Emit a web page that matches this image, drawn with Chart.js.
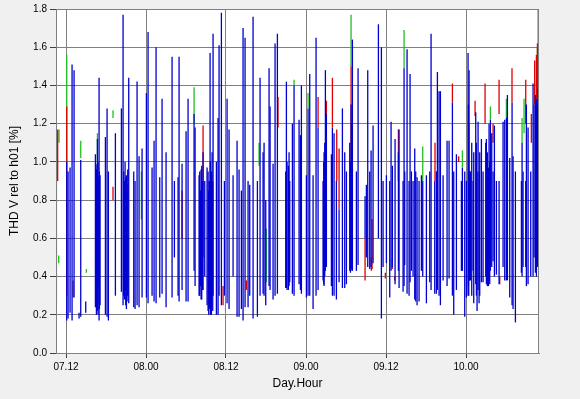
<!DOCTYPE html>
<html>
<head>
<meta charset="utf-8">
<script src="https://cdn.jsdelivr.net/npm/chart.js@4"></script>
<style>
  html, body { margin: 0; padding: 0; background: #f0f0f0; }
  canvas { display: block; }
</style>
</head>
<body>
<canvas id="thdChart" width="580" height="399"></canvas>
<script>
// time axis is in hours counted from day 07, 00:00
const xTickHours = [12, 24, 36, 48, 60, 72];
const xTickLabels = ['07.12', '08.00', '08.12', '09.00', '09.12', '10.00'];

// blue trace: each sample shown as min..max span
const blueX = [10.56, 12.11, 12.31, 12.61, 12.91, 13.21, 13.96, 14.21, 14.96, 16.41, 16.56, 16.71, 16.96, 17.11, 17.91, 18.16, 18.36, 19.41, 20.31, 20.56,
    21.06, 21.41, 22.16, 22.36, 22.66, 22.96, 23.41, 24.06, 24.31, 24.91, 25.21, 25.51, 26.06, 26.41, 27.01, 27.91, 28.26, 28.81, 28.96, 29.41,
    30.01, 30.31, 31.21, 31.36, 31.96, 32.26, 32.56, 32.81, 33.16, 33.46, 33.61, 33.91, 34.06, 34.56, 34.81, 34.96,
    35.31, 35.76, 36.16, 36.46, 37.06, 37.66, 37.96, 38.31, 38.56, 38.86, 39.31, 39.56, 40.06, 40.71, 41.11, 41.56, 41.71, 41.96, 42.46, 42.61,
    43.06, 43.36, 43.71, 44.96, 45.06, 45.36, 45.56, 45.96, 46.21, 46.96, 47.16, 47.31, 48.06, 48.31, 48.56, 49.06, 49.51, 49.81, 50.56, 50.81,
    50.91, 51.06, 51.81, 51.96, 52.21, 52.56, 52.96, 53.46, 53.81, 54.06, 54.56, 54.76, 54.96, 55.56, 55.81, 56.86, 57.06, 57.26, 57.56, 57.76,
    58.06, 58.86, 59.31, 59.56, 60.06, 60.56, 60.76, 60.96, 61.36, 61.86, 61.96, 62.56, 62.71, 62.81, 63.16, 63.46, 63.61, 63.81, 64.06, 64.31,
    64.46, 64.66, 64.96, 65.31, 65.51, 66.06, 66.56, 66.76, 67.31, 67.56, 67.71, 67.96, 68.16, 68.56, 69.16, 69.46, 69.96, 70.16, 70.56, 71.31,
    71.46, 71.81, 72.06, 72.31, 72.46, 72.56, 73.06, 73.46, 73.81, 73.96, 74.31, 74.56, 75.06, 75.36, 75.66, 76.06, 76.26, 76.56, 76.96, 77.56,
    77.81, 78.06, 78.21, 78.56, 78.91, 79.06, 79.41, 80.31, 80.41, 80.56, 80.96, 81.06, 81.31, 81.71, 82.06, 82.56, 82.71, 82.86,
    // denser clusters
    16.46, 16.51, 16.61, 16.66, 16.76, 16.81, 16.86, 17.01, 20.66, 20.76, 20.86, 20.96, 21.16, 21.26, 32.06, 32.16, 32.36, 32.46,
    33.31, 33.41, 33.56, 33.66, 33.76, 33.81, 34.01, 45.16, 45.46, 50.66, 50.71, 54.66, 54.86,
    72.36, 72.41, 72.66, 72.86, 73.16, 73.56, 73.66, 74.06, 74.96, 75.21, 75.46, 75.56, 75.86, 82.21, 82.41, 82.81];
const blueHi = [1.14, 1.00, 0.95, 0.97, 1.51, 1.48, 0.21, 1.01, 0.27, 1.04, 0.96, 1.12, 1.44, 0.93, 1.13, 1.28, 0.95, 1.15, 1.28, 1.77,
    0.93, 1.44, 0.95, 0.90, 1.42, 1.03, 1.07, 1.36, 1.68, 0.97, 1.11, 1.60, 0.92, 1.33, 1.05, 1.55, 0.90, 0.92, 1.55, 0.99,
    1.16, 1.33, 1.25, 1.18, 0.93, 0.96, 1.05, 0.90, 0.97, 0.90, 1.57, 1.05, 1.67, 1.00, 1.23, 1.61,
    1.78, 0.90, 1.33, 1.17, 0.93, 1.11, 0.96, 0.85, 1.70, 1.65, 0.90, 0.88, 1.76, 0.90, 1.44, 1.05, 1.10, 0.80, 1.49, 1.29,
    0.99, 1.62, 1.67, 0.95, 1.42, 0.98, 0.90, 1.20, 1.40, 1.22, 1.14, 1.40, 0.93, 1.28, 1.46, 0.93, 1.65, 1.18, 0.90, 1.10,
    1.48, 1.25, 1.04, 1.18, 1.15, 0.90, 0.75, 1.28, 1.05, 0.95, 1.10, 1.30, 1.64, 0.95, 1.49, 0.82, 0.88, 1.48, 0.95, 1.06,
    1.19, 1.72, 1.60, 0.90, 0.93, 0.90, 1.21, 0.98, 1.12, 1.05, 1.17, 0.90, 1.49, 0.95, 1.59, 0.90, 1.46, 0.95, 0.90, 1.07,
    0.95, 0.92, 0.90, 0.93, 0.90, 0.93, 0.95, 1.67, 0.90, 0.95, 1.47, 1.37, 1.37, 0.93, 1.11, 1.11, 1.31, 0.95, 1.04, 0.90,
    0.97, 0.95, 0.90, 1.57, 1.48, 0.95, 0.90, 1.26, 1.21, 0.95, 1.12, 0.95, 1.12, 0.97, 1.22, 0.95, 1.19, 0.90, 0.90, 1.21,
    1.22, 1.23, 1.35, 1.02, 1.31, 1.03, 0.95, 0.90, 1.10, 0.95, 0.90, 1.30, 1.18, 0.95, 1.41, 1.33, 1.30, 1.32,
    0.98, 0.90, 0.85, 0.99, 0.90, 1.00, 0.92, 0.95, 0.95, 0.90, 1.00, 0.92, 0.88, 0.96, 0.95, 0.85, 0.98, 0.90,
    0.95, 0.85, 0.90, 1.00, 0.80, 0.95, 0.90, 1.00, 1.05, 1.00, 1.05, 1.00, 1.20,
    1.30, 1.20, 0.95, 1.10, 1.05, 1.10, 0.95, 1.05, 1.10, 1.05, 1.20, 1.00, 1.15, 1.30, 1.35, 1.38];
const blueLo = [0.26, 0.17, 0.18, 0.21, 0.17, 0.29, 0.18, 0.19, 0.21, 0.24, 0.20, 0.22, 0.17, 0.25, 0.20, 0.19, 0.17, 0.30, 0.32, 0.25,
    0.23, 0.26, 0.24, 0.23, 0.25, 0.24, 0.29, 0.29, 0.26, 0.30, 0.27, 0.26, 0.29, 0.31, 0.24, 0.29, 0.50, 0.30, 0.27, 0.33,
    0.27, 0.27, 0.43, 0.35, 0.30, 0.28, 0.33, 0.40, 0.25, 0.30, 0.25, 0.30, 0.30, 0.20, 0.20, 0.30,
    0.25, 0.30, 0.26, 0.23, 0.40, 0.19, 0.19, 0.23, 0.17, 0.24, 0.24, 0.30, 0.18, 0.19, 0.30, 0.31, 0.30, 0.25, 0.35, 0.33,
    0.28, 0.30, 0.31, 0.34, 0.34, 0.33, 0.37, 0.31, 0.30, 0.36, 0.33, 0.31, 0.29, 0.30, 0.30, 0.23, 0.30, 0.33, 0.38, 0.40,
    0.43, 0.45, 0.35, 0.30, 0.30, 0.28, 0.37, 0.34, 0.34, 0.36, 0.43, 0.43, 0.43, 0.43, 0.46, 0.60, 0.50, 0.45, 0.44, 0.45,
    0.47, 0.60, 0.18, 0.45, 0.47, 0.29, 0.43, 0.45, 0.36, 0.43, 0.34, 0.32, 0.35, 0.46, 0.31, 0.30, 0.37, 0.43, 0.40, 0.28,
    0.27, 0.25, 0.27, 0.43, 0.40, 0.26, 0.37, 0.33, 0.31, 0.31, 0.33, 0.30, 0.25, 0.38, 0.35, 0.39, 0.30, 0.20, 0.33, 0.43,
    0.43, 0.19, 0.29, 0.30, 0.38, 0.38, 0.43, 0.36, 0.33, 0.26, 0.37, 0.37, 0.36, 0.35, 0.43, 0.48, 0.40, 0.41, 0.36, 0.45,
    0.38, 0.38, 0.38, 0.29, 0.25, 0.23, 0.16, 0.42, 0.40, 0.45, 0.45, 0.35, 0.36, 0.40, 0.40, 0.40, 0.45, 0.67,
    0.24, 0.30, 0.22, 0.30, 0.26, 0.20, 0.35, 0.23, 0.30, 0.28, 0.33, 0.25, 0.27, 0.30, 0.30, 0.35, 0.28, 0.33,
    0.22, 0.20, 0.23, 0.20, 0.24, 0.20, 0.22, 0.33, 0.35, 0.36, 0.35, 0.42, 0.44,
    0.35, 0.30, 0.38, 0.30, 0.26, 0.30, 0.22, 0.30, 0.40, 0.35, 0.38, 0.36, 0.45, 0.50, 0.42, 0.45];

// red trace, visible only where it pokes out from under the blue one
const redX = [10.75, 12.11, 13.06, 19.05, 29.41, 32.56, 33.50, 33.70, 33.85, 35.56, 39.06, 43.80, 49.81, 51.06, 51.96, 52.61, 52.96, 54.76,
    56.86, 57.91, 57.80, 59.90, 60.95, 61.30, 61.86, 67.35, 69.96, 70.90, 73.36, 74.86, 75.15, 76.06, 76.96, 77.06, 78.90, 80.96, 81.80,
    82.30, 82.56, 82.71, 82.84];
const redHi = [1.17, 1.29, 0.38, 0.87, 0.85, 1.19, 0.41, 0.40, 0.38, 0.35, 0.38, 1.34, 1.34, 1.32, 1.44, 1.17, 1.07, 1.50,
    0.60, 0.70, 0.50, 0.42, 0.49, 0.40, 1.17, 1.10, 1.41, 1.03, 1.32, 1.41, 0.52, 1.20, 1.43, 0.40, 1.49, 1.43, 1.25,
    1.53, 1.56, 1.62, 1.80];
const redLo = [0.90, 0.30, 0.29, 0.80, 0.60, 0.50, 0.24, 0.25, 0.26, 0.25, 0.33, 1.18, 1.18, 1.24, 1.18, 0.90, 0.75, 1.00,
    0.38, 0.44, 0.43, 0.39, 0.44, 0.38, 0.90, 0.90, 1.31, 1.00, 1.24, 1.20, 0.36, 1.10, 1.25, 0.36, 1.31, 1.20, 1.10,
    1.30, 1.33, 1.30, 1.30];

// green trace
const greenX = [10.95, 10.90, 12.11, 14.21, 15.05, 16.71, 19.05, 23.31, 31.21, 40.96, 42.06, 46.21, 48.31, 54.76, 62.71, 65.51, 71.46, 75.66,
    78.06, 80.41, 80.71, 82.71];
const greenHi = [1.17, 0.51, 1.56, 1.11, 0.44, 1.15, 1.27, 0.95, 1.39, 1.10, 0.65, 1.43, 1.36, 1.77, 1.69, 1.08, 1.06, 1.29,
    1.33, 1.23, 1.33, 1.60];
const greenLo = [1.10, 0.47, 1.00, 1.02, 0.42, 1.00, 1.23, 0.70, 1.20, 0.98, 0.37, 1.40, 1.28, 1.50, 1.49, 0.90, 0.97, 1.22,
    1.23, 1.10, 1.15, 1.50];

function spans(xs, lo, hi) {
    return xs.map((x, i) => ({ x: x, y: [lo[i], hi[i]] }));
}

const framePlugin = {
    id: 'frame',
    beforeDraw(chart) {
        const { ctx, chartArea: a } = chart;
        ctx.save();
        ctx.fillStyle = '#f0f0f0';
        ctx.fillRect(0, 0, chart.width, chart.height);
        ctx.fillStyle = '#ffffff';
        ctx.fillRect(a.left, a.top, a.right - a.left, a.bottom - a.top);
        ctx.restore();
    },
    afterDraw(chart) {
        const { ctx, chartArea: a } = chart;
        ctx.save();
        ctx.strokeStyle = '#808080';
        ctx.lineWidth = 1;
        ctx.strokeRect(a.left + 0.5, a.top + 0.5, a.right - a.left - 1, a.bottom - a.top);
        ctx.restore();
    }
};

const tickFont = { family: "'Liberation Sans', Arial, sans-serif", size: 10 };
const titleFont = { family: "'Liberation Sans', Arial, sans-serif", size: 12 };
const barW = 1.3;

function traceStyle(color, order) {
    return { backgroundColor: color, barThickness: barW, inflateAmount: 0, borderWidth: 0, grouped: false, order: order };
}

new Chart(document.getElementById('thdChart'), {
    type: 'bar',
    data: {
        datasets: [
            Object.assign({ label: 'blue', data: spans(blueX, blueLo, blueHi) }, traceStyle('#0000d0', 0)),
            Object.assign({ label: 'red', data: spans(redX, redLo, redHi) }, traceStyle('#e00000', 1)),
            Object.assign({ label: 'green', data: spans(greenX, greenLo, greenHi) }, traceStyle('#20c020', 2))
        ]
    },
    options: {
        responsive: false,
        animation: false,
        devicePixelRatio: 1,
        layout: { padding: { top: 9, right: 41, left: 0, bottom: 0 } },
        plugins: {
            legend: { display: false },
            tooltip: { enabled: false }
        },
        scales: {
            x: {
                type: 'linear',
                min: 10.5,
                max: 82.95,
                offset: false,
                afterBuildTicks: scale => {
                    scale.ticks = xTickHours.map(v => ({ value: v }));
                },
                afterFit: scale => { scale.height = 46; },
                ticks: {
                    font: tickFont,
                    color: '#000',
                    padding: 3,
                    maxRotation: 0,
                    callback: v => xTickLabels[xTickHours.indexOf(v)]
                },
                grid: { offset: false, color: '#808080', tickColor: '#404040', tickLength: 5 },
                border: { color: '#808080' },
                title: { display: true, text: 'Day.Hour', font: titleFont, color: '#000', padding: { top: 0, bottom: 8 } }
            },
            y: {
                min: 0,
                max: 1.8,
                afterFit: scale => { scale.width = 56; },
                ticks: {
                    stepSize: 0.2,
                    font: tickFont,
                    color: '#000',
                    padding: 3,
                    callback: v => v.toFixed(1)
                },
                grid: { color: '#808080', tickColor: '#404040', tickLength: 6 },
                border: { color: '#808080' },
                title: { display: true, text: 'THD V rel to h01 [%]', font: titleFont, color: '#000', padding: { top: 7, bottom: 0 } }
            }
        }
    },
    plugins: [framePlugin]
});
</script>
</body>
</html>
